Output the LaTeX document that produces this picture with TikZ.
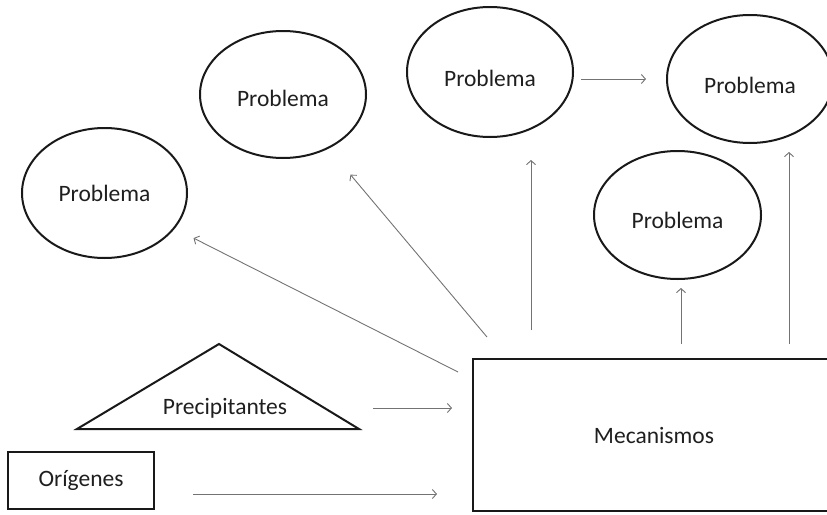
\documentclass[tikz,border=0pt]{standalone}
\usepackage{fontspec}
\setmainfont{Carlito}
\usetikzlibrary{shapes.geometric,arrows.meta}

\begin{document}
\begin{tikzpicture}[x=1pt, y=-1pt,
  every node/.style={font=\fontsize{23.5}{28}\selectfont, text=black!88},
  prob/.style={draw=black!90, line width=2pt, ellipse, inner sep=0pt, outer sep=0pt},
  box/.style={draw=black!90, line width=2.4pt, rectangle, inner sep=0pt, outer sep=0pt},
  arr/.style={draw=black!55, line width=0.9pt, -{Straight Barb[length=4pt,width=9pt]}}]
  \useasboundingbox (0,0) rectangle (827,514);
  \clip (0,0) rectangle (827,514);
  \node[prob, minimum width=165pt, minimum height=130pt] (pA) at (104.5,193) {Problema};
  \node[prob, text height=23.5pt, minimum width=166pt, minimum height=127pt] (pB) at (283,94.5) {Problema};
  \node[prob, text height=28.5pt, minimum width=166pt, minimum height=130pt] (pC) at (490,72) {Problema};
  \node[prob, text height=28.5pt, minimum width=166pt, minimum height=128pt] (pD) at (750,79) {Problema};
  \node[prob, text height=26.5pt, minimum width=167pt, minimum height=128pt] (pE) at (677.5,215) {Problema};
  \node[box, minimum width=362pt, minimum height=152pt] (mec) at (654,435) {Mecanismos};
  \node[box, line width=2pt, minimum width=146pt, minimum height=57pt] (orig) at (81,480.5) {Orígenes};
  \coordinate (triT) at (219,344);
  \coordinate (triL) at (77,429);
  \coordinate (triR) at (359,429);
  \draw[draw=black!90, line width=2pt] (triL) -- (triT) -- (triR) -- cycle;
  \node (prec) at (225,408) {Precipitantes};
  \coordinate (tP) at (373,408);
  \draw[arr, shorten >=21pt] (tP) -- (tP -| mec.west);
  \coordinate (tO) at (193,494);
  \draw[arr, shorten >=36pt] (tO) -- (tO -| mec.west);
  \coordinate (tA) at (458,372);
  \draw[arr, shorten >=22pt] (tA) -- (pA);
  \coordinate (tB) at (487,337);
  \draw[arr, shorten >=35pt] (tB) -- (pB);
  \coordinate (tC) at (531,330);
  \draw[arr, shorten >=23pt] (tC) -- (tC |- pC.south);
  \coordinate (tE) at (681,344);
  \draw[arr, shorten >=9pt] (tE) -- (tE |- pE.south);
  \coordinate (tD) at (789,344);
  \draw[arr, shorten >=9pt] (tD) -- (tD |- pD.south);
  \draw[arr, shorten <=8pt, shorten >=21pt] (pC.east |- pD.west) -- (pD.west);
\end{tikzpicture}
\end{document}
